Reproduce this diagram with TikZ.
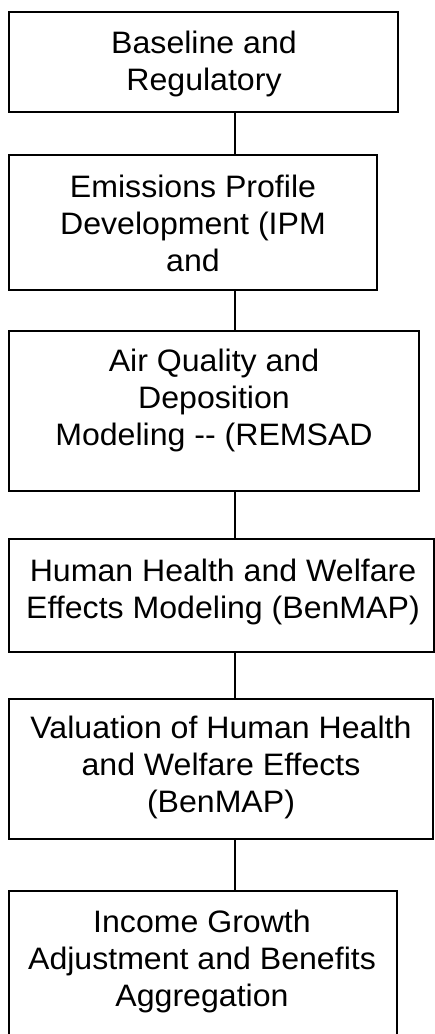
\documentclass[tikz,border=0pt]{standalone}
\usepackage{fontspec}
\setmainfont{Liberation Sans}[FakeStretch=1.035]
\begin{document}
\begin{tikzpicture}[x=1pt,y=-1pt,
  stagebox/.style={draw=black,line width=1.8pt,inner sep=0pt,outer sep=0pt},
  stagetext/.style={anchor=north,align=center,inner sep=0pt,
    font=\fontsize{31}{37}\selectfont},
  link/.style={draw=black,line width=1.8pt}]
\useasboundingbox (0,0) rectangle (435,1034);
\begin{scope}
\clip (0,0) rectangle (435,1034);
\coordinate (spine) at (235,0);
% stage boxes
\node[stagebox,minimum width=389pt,minimum height=100pt] (b1) at (203.5,62) {};
\node[stagebox,minimum width=368pt,minimum height=135pt] (b2) at (193,222.5) {};
\node[stagebox,minimum width=410pt,minimum height=160pt] (b3) at (214,411) {};
\node[stagebox,minimum width=425pt,minimum height=113pt] (b4) at (221.5,595.5) {};
\node[stagebox,minimum width=424pt,minimum height=140pt] (b5) at (221,769) {};
\node[stagebox,minimum width=388pt,minimum height=170pt] (b6) at (203,976) {};
% stage labels
\node[stagetext] (t1) at (204,31) {Baseline and\\Regulatory};
\node[stagetext] (t2) at (193,175) {Emissions Profile\\Development (IPM\\and};
\node[stagetext] (t3) at (214,349) {Air Quality and\\Deposition\\Modeling -{}- (REMSAD};
\node[stagetext] (t4) at (223,559) {Human Health and Welfare\\Effects Modeling (BenMAP)};
\node[stagetext] (t5) at (221,716) {Valuation of Human Health\\and Welfare Effects\\(BenMAP)};
\node[stagetext] (t6) at (202,910) {Income Growth\\Adjustment and Benefits\\Aggregation};
% connectors
\draw[link] (b1.south -| spine) -- (b2.north -| spine);
\draw[link] (b2.south -| spine) -- (b3.north -| spine);
\draw[link] (b3.south -| spine) -- (b4.north -| spine);
\draw[link] (b4.south -| spine) -- (b5.north -| spine);
\draw[link] (b5.south -| spine) -- (b6.north -| spine);
\end{scope}
\end{tikzpicture}
\end{document}
